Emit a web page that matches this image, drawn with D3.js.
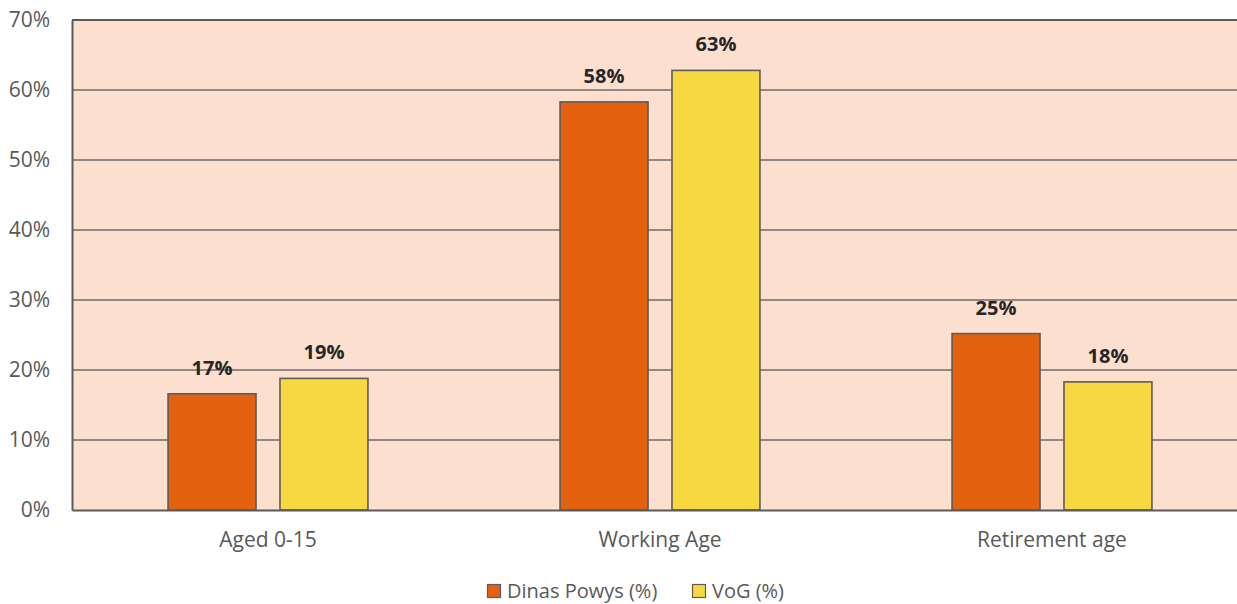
<!DOCTYPE html>
<html>
<head>
<meta charset="utf-8">
<script src="https://cdn.jsdelivr.net/npm/d3@7"></script>
<style>
  html, body { margin: 0; padding: 0; background: #fff; }
  svg { display: block; font-family: "Open Sans", "Liberation Sans", sans-serif; }
</style>
</head>
<body>
<svg id="chart" width="1237" height="604"></svg>
<script>
// Age groups and their shares of population (%)
const categories = ["Aged 0-15", "Working Age", "Retirement age"];
const seriesNames = ["Dinas Powys (%)", "VoG (%)"];
const dinasPowys = [16.6, 58.3, 25.2];
const vog = [18.8, 62.8, 18.3];
const yTicks = [0, 10, 20, 30, 40, 50, 60, 70];

const seriesValues = [dinasPowys, vog];
const colors = ["#E3610F", "#F8D841"];

const svg = d3.select("#chart");
const W = 1237, H = 604;
const margin = { left: 72, top: 20, bottom: 94 };
const plotW = 1176;               // extends past the right edge of the canvas
const plotH = H - margin.top - margin.bottom;

const x0 = d3.scaleBand().domain(categories).range([0, plotW]).paddingInner(0).paddingOuter(0);
const groupW = x0.bandwidth() * 0.51;
const x1 = d3.scaleBand().domain(seriesNames).range([0, groupW]).paddingInner(0.214);
const y = d3.scaleLinear().domain([0, 70]).range([plotH, 0]);

const g = svg.append("g").attr("transform", `translate(${margin.left},${margin.top})`);

// plot background
g.append("rect").attr("x", 0).attr("y", 0).attr("width", plotW).attr("height", plotH)
  .attr("fill", "#FCDFCF");

// gridlines
g.append("g").selectAll("line").data(yTicks.filter(t => t > 0 && t < 70)).join("line")
  .attr("x1", 0).attr("x2", plotW)
  .attr("y1", d => y(d)).attr("y2", d => y(d))
  .attr("stroke", "#6b6b6b").attr("stroke-width", 1.3);

// top border
g.append("line").attr("x1", 0).attr("x2", plotW).attr("y1", y(70)).attr("y2", y(70))
  .attr("stroke", "#5a5a5a").attr("stroke-width", 2);

// bars
const groups = g.append("g").selectAll("g").data(categories).join("g")
  .attr("transform", c => `translate(${x0(c) + (x0.bandwidth() - groupW) / 2},0)`);

groups.selectAll("rect").data((c, i) => seriesNames.map((s, k) => ({ s, v: seriesValues[k][i], k })))
  .join("rect")
  .attr("x", d => x1(d.s))
  .attr("y", d => y(d.v))
  .attr("width", x1.bandwidth())
  .attr("height", d => y(0) - y(d.v))
  .attr("fill", d => colors[d.k])
  .attr("stroke", "#5c5c5c").attr("stroke-width", 1.6);

groups.selectAll("text").data((c, i) => seriesNames.map((s, k) => ({ s, v: seriesValues[k][i], k })))
  .join("text")
  .attr("x", d => x1(d.s) + x1.bandwidth() / 2)
  .attr("y", d => y(d.v) - 19)
  .attr("text-anchor", "middle")
  .attr("font-size", 20).attr("font-weight", "bold").attr("fill", "#262626")
  .text(d => Math.round(d.v) + "%");

// y axis
const yAxis = d3.axisLeft(y).tickValues(yTicks).tickFormat(d => d + "%").tickSize(0).tickPadding(22);
const ya = g.append("g").call(yAxis);
ya.select(".domain").attr("stroke", "#5a5a5a").attr("stroke-width", 2);
ya.selectAll("text").attr("font-size", 21).attr("fill", "#595959")
  .attr("font-family", "'Open Sans', sans-serif");

// x axis
const xAxis = d3.axisBottom(x0).tickSize(0).tickPadding(22);
const xa = g.append("g").attr("transform", `translate(0,${plotH})`).call(xAxis);
xa.select(".domain").attr("stroke", "#5a5a5a").attr("stroke-width", 2);
xa.selectAll("text").attr("font-size", 21).attr("fill", "#595959")
  .attr("font-family", "'Open Sans', sans-serif");

// legend
const legend = svg.append("g").attr("transform", "translate(487,591)");
const items = [{ name: seriesNames[0], x: 0 }, { name: seriesNames[1], x: 205 }];
items.forEach((it, k) => {
  const lg = legend.append("g").attr("transform", `translate(${it.x},0)`);
  lg.append("rect").attr("x", 0.5).attr("y", -6.5).attr("width", 13).attr("height", 13)
    .attr("fill", colors[k]).attr("stroke", "#5c5c5c").attr("stroke-width", 1.2);
  lg.append("text").attr("x", 20).attr("y", 0).attr("dy", "0.35em")
    .attr("font-size", 20).attr("fill", "#595959").text(it.name);
});
</script>
</body>
</html>
